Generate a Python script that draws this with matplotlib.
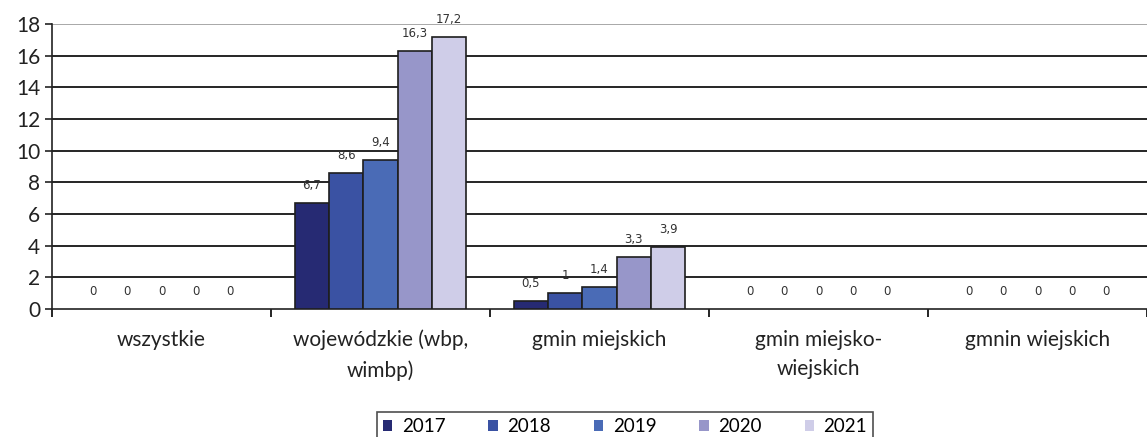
import numpy as np
import matplotlib.pyplot as plt

categories = ['wszystkie', 'wojewódzkie (wbp,\nwimbp)', 'gmin miejskich',
              'gmin miejsko-\nwiejskich', 'gmnin wiejskich']
years = ['2017', '2018', '2019', '2020', '2021']
v2017 = [0, 6.7, 0.5, 0, 0]
v2018 = [0, 8.6, 1, 0, 0]
v2019 = [0, 9.4, 1.4, 0, 0]
v2020 = [0, 16.3, 3.3, 0, 0]
v2021 = [0, 17.2, 3.9, 0, 0]
series = [v2017, v2018, v2019, v2020, v2021]
colors = ['#262a73', '#3a52a3', '#4a6bb6', '#9796c9', '#cfcde8']

fig = plt.figure(figsize=(11.47, 4.37), dpi=100)
ax = fig.add_axes([52 / 1147, 1 - 309 / 437, 1 - 52 / 1147, 285 / 437])

x = np.arange(len(categories))
w = 0.157
for i, (vals, c, yr) in enumerate(zip(series, colors, years)):
    pos = x + (i - 2) * w
    lws = [1.2 if v > 0 else 0 for v in vals]
    ax.bar(pos, vals, width=w, color=c, edgecolor='#1e1e1e', linewidth=lws,
           label=yr, zorder=3)
    for p, v in zip(pos, vals):
        txt = ('%g' % v).replace('.', ',')
        ax.annotate(txt, (p, v), xytext=(0, 8), textcoords='offset points',
                    ha='center', va='bottom', fontsize=8.5, color='#333333',
                    family='DejaVu Sans')

ax.set_xlim(-0.5, len(categories) - 0.5)
ax.set_ylim(0, 18)
ax.set_yticks(range(0, 19, 2))
for y in range(2, 17, 2):
    ax.axhline(y, color='black', linewidth=1.2, zorder=1)
ax.axhline(18, color='#999999', linewidth=1.2, zorder=1)

ax.set_xticks(x)
ax.set_xticklabels(categories, fontsize=15, family='Lato', color='#222222',
                   linespacing=1.6)
ax.tick_params(axis='x', length=0, pad=15)
ax.set_xticks(np.arange(-0.5, len(categories), 1), minor=True)
ax.tick_params(axis='x', which='minor', length=6, width=1.2, direction='out')
ax.tick_params(axis='y', labelsize=15, length=5, width=1.2, direction='out',
               colors='#222222')
for t in ax.get_yticklabels():
    t.set_family('Lato')

for s in ['top', 'right']:
    ax.spines[s].set_visible(False)
for s in ['left', 'bottom']:
    ax.spines[s].set_linewidth(1.2)
    ax.spines[s].set_color('#222222')

leg = fig.legend(loc='lower center', bbox_to_anchor=(625 / 1147, -0.03),
                 ncol=5, frameon=True, fancybox=False, edgecolor='#222222',
                 prop={'family': 'Lato', 'size': 13.5}, handlelength=0.5,
                 handleheight=0.5, handletextpad=0.5, columnspacing=2.3,
                 borderpad=0.3)
leg.get_frame().set_linewidth(1.2)

fig.savefig('out.png', dpi=100)
